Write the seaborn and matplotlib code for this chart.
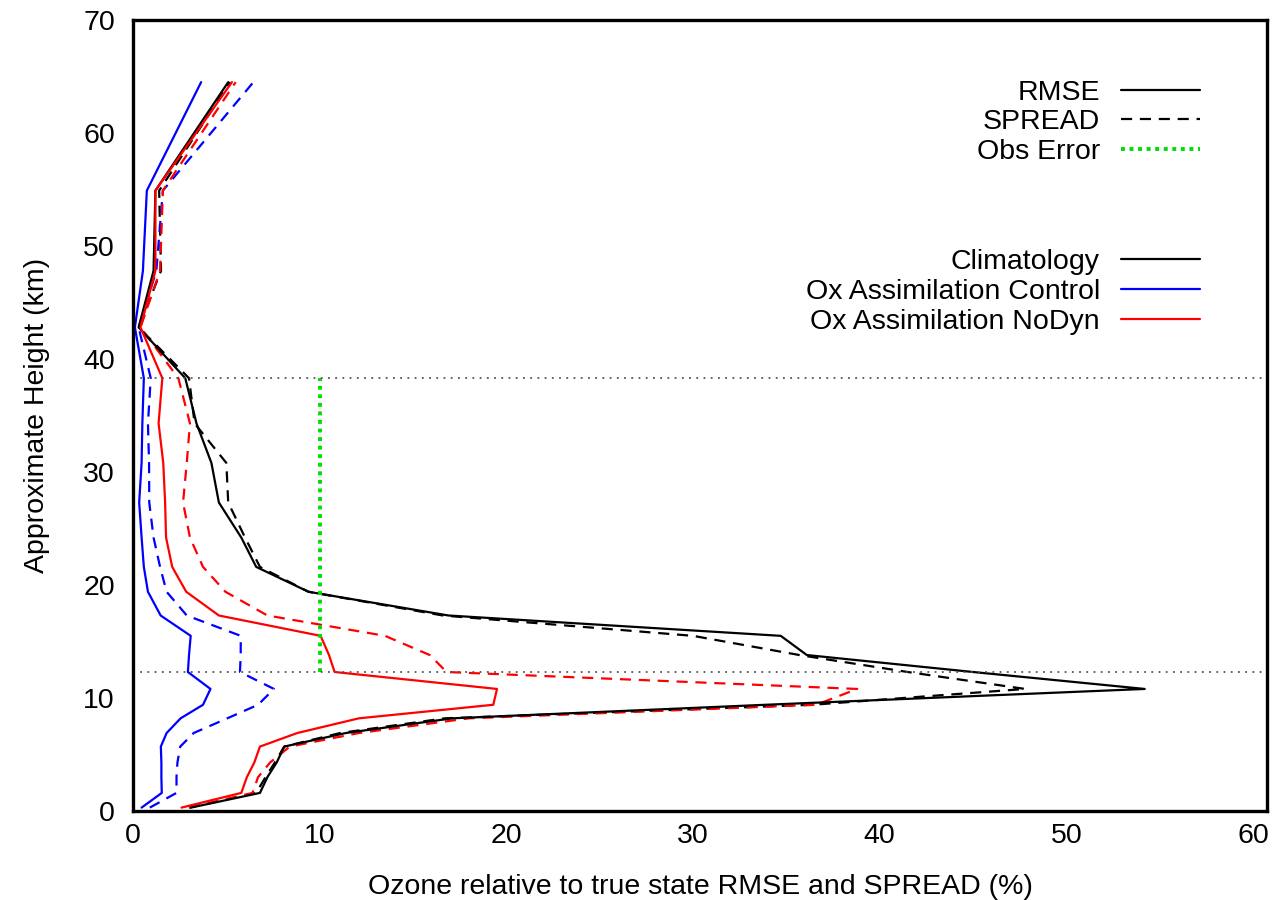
import matplotlib
matplotlib.use("Agg")
import matplotlib.pyplot as plt
from matplotlib.lines import Line2D
import seaborn as sns
import pandas as pd

# Approximate model level heights (km)
levels = [0.3, 1.6, 3.0, 4.3, 5.7, 6.9, 8.2, 9.4, 10.8, 12.3, 13.8, 15.5, 17.3,
          19.4, 21.6, 24.2, 27.3, 30.8, 34.3, 38.3, 42.8, 47.8, 54.9, 64.5]

clim_rmse = [3.1, 6.8, 7.2, 7.7, 8.1, 11.4, 17.1, 33.9, 54.2, 45.0, 36.1, 34.7, 16.9,
             9.4, 6.6, 5.8, 4.6, 4.2, 3.4, 2.8, 0.3, 1.1, 1.2, 5.1]
clim_spread = [3.0, 6.6, 7.1, 7.6, 8.1, 11.1, 16.7, 36.4, 47.8, 41.5, 35.7, 30.0, 16.6,
               9.4, 6.8, 6.0, 5.1, 5.0, 3.3, 3.0, 0.3, 1.5, 1.4, 5.2]
ctrl_rmse = [0.46, 1.54, 1.52, 1.52, 1.49, 1.8, 2.55, 3.75, 4.15, 2.94, 3.0, 3.09, 1.48,
             0.8, 0.58, 0.46, 0.33, 0.46, 0.5, 0.58, 0.1, 0.53, 0.74, 3.65]
ctrl_spread = [0.9, 2.33, 2.33, 2.38, 2.53, 3.25, 5.05, 6.7, 7.55, 5.73, 5.77, 5.77, 2.88,
               1.8, 1.45, 1.1, 0.87, 0.86, 0.8, 0.95, 0.3, 1.25, 1.6, 6.45]
nodyn_rmse = [2.6, 5.8, 6.1, 6.5, 6.8, 8.8, 12.1, 19.3, 19.5, 10.8, 10.5, 10.05, 4.6,
              2.85, 2.1, 1.77, 1.72, 1.62, 1.37, 1.57, 0.4, 1.2, 1.2, 5.3]
nodyn_spread = [3.0, 6.4, 6.7, 7.35, 8.4, 12.1, 18.0, 36.6, 38.8, 16.8, 15.9, 13.5, 7.2,
                4.95, 3.75, 3.05, 2.68, 2.88, 3.05, 2.43, 0.4, 1.45, 1.6, 5.5]

obs_error = 10.0
obs_levels = [12.3, 38.3]

run_names = ["Climatology", "Ox Assimilation Control", "Ox Assimilation NoDyn"]
run_colors = ["#000000", "#0000ff", "#ff0000"]

rows = []
for run, rm, sp in [(run_names[0], clim_rmse, clim_spread),
                    (run_names[1], ctrl_rmse, ctrl_spread),
                    (run_names[2], nodyn_rmse, nodyn_spread)]:
    for h, v in zip(levels, rm):
        rows.append({"height": h, "value": v, "run": run, "metric": "RMSE"})
    for h, v in zip(levels, sp):
        rows.append({"height": h, "value": v, "run": run, "metric": "SPREAD"})
df = pd.DataFrame(rows)

sns.set_theme(style="white")
plt.rcParams["font.family"] = ["Liberation Sans", "DejaVu Sans"]
plt.rcParams["text.color"] = "black"
plt.rcParams["axes.labelcolor"] = "black"

FS = 20.5
fig = plt.figure(figsize=(12.79, 9.0), dpi=100)
ax = fig.add_axes([0.104, 0.0989, 0.8866, 0.8789])

palette = dict(zip(run_names, run_colors))
dash_map = {"RMSE": "", "SPREAD": (5, 3.5)}

LW = 1.6
for metric in ["SPREAD", "RMSE"]:
    sub = df[df["metric"] == metric]
    sns.lineplot(data=sub, x="value", y="height", hue="run", style="metric",
                 palette=palette, dashes=dash_map, sort=False, estimator=None,
                 units="run", lw=LW, legend=False, ax=ax)

# Observation error reference
ax.plot([obs_error, obs_error], obs_levels, color="#00dd00", lw=2.8,
        linestyle=(0, (1, 1.2)))
for lv in obs_levels:
    ax.axhline(lv, color="#555555", lw=1.3, linestyle=(0, (1, 3)))

ax.set_xlim(0, 60.75)
ax.set_ylim(0, 70)
ax.set_xticks(range(0, 61, 10))
ax.set_yticks(range(0, 71, 10))
ax.tick_params(axis="both", which="both", direction="in", length=7, width=2,
               labelsize=FS, top=False, right=False, colors="black",
               labelcolor="black")
ax.tick_params(axis="x", pad=9)
ax.tick_params(axis="y", pad=13)
for s in ax.spines.values():
    s.set_linewidth(2.4)
    s.set_color("black")

ax.set_xlabel("Ozone relative to true state RMSE and SPREAD (%)", fontsize=FS, labelpad=18)
ax.set_ylabel("Approximate Height (km)", fontsize=FS, labelpad=24)

# Legends (gnuplot style: text right-aligned, sample on the right)
h1 = [Line2D([], [], color="black", lw=LW),
      Line2D([], [], color="black", lw=LW, dashes=(5, 3.5)),
      Line2D([], [], color="#00dd00", lw=2.8, linestyle=(0, (1, 1.2)))]
leg1 = ax.legend(h1, ["RMSE", "SPREAD", "Obs Error"], loc="upper right",
                 bbox_to_anchor=(0.9506, 0.939), frameon=False, markerfirst=False,
                 fontsize=FS, handlelength=2.75, handletextpad=0.75, labelspacing=0.13,
                 borderaxespad=0.0)
ax.add_artist(leg1)
h2 = [Line2D([], [], color=c, lw=LW) for c in run_colors]
ax.legend(h2, run_names, loc="upper right", bbox_to_anchor=(0.9506, 0.7244),
          frameon=False, markerfirst=False, fontsize=FS, handlelength=2.75,
          handletextpad=0.75, labelspacing=0.13, borderaxespad=0.0)

fig.savefig("out.png", dpi=100)
